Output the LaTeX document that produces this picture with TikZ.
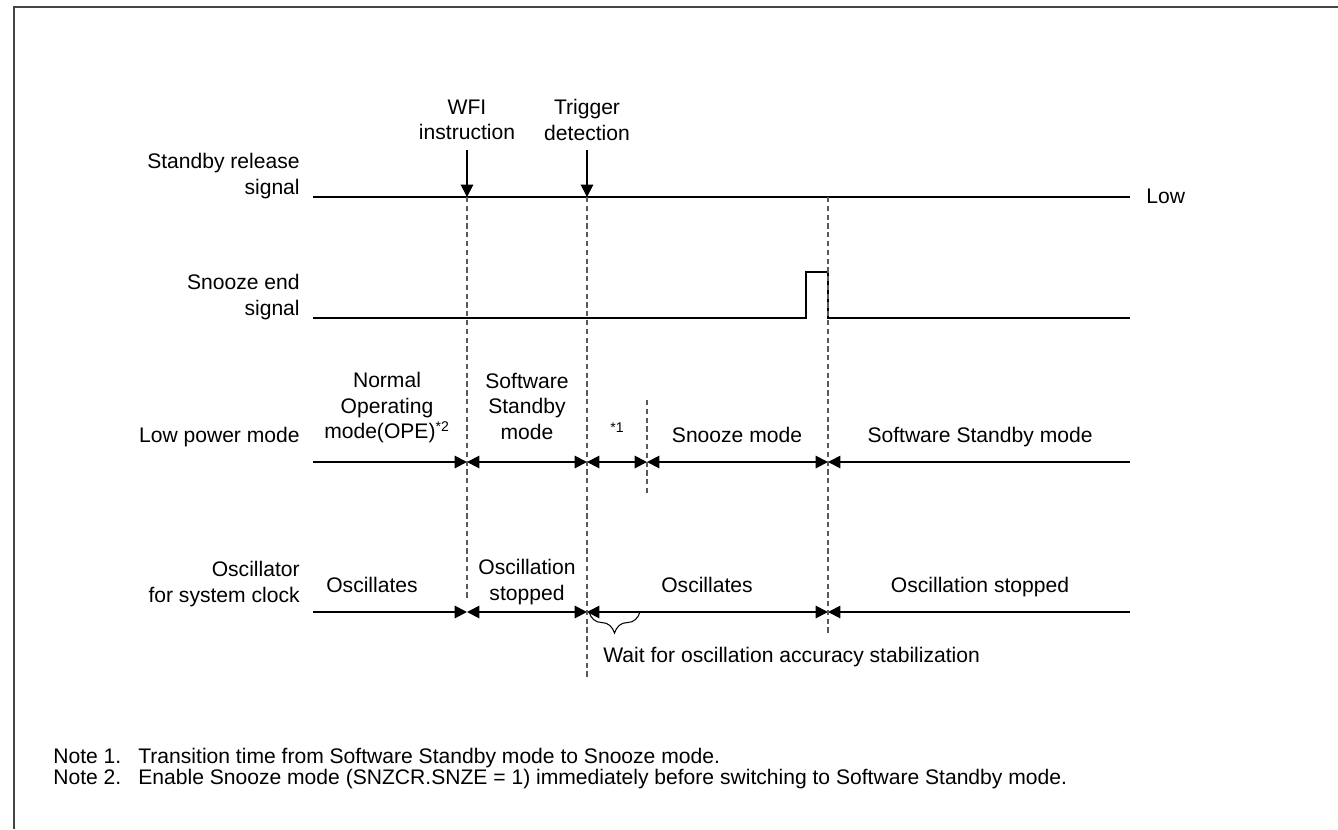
\documentclass[tikz,border=0pt]{standalone}
\usepackage{fontspec}
\setmainfont{Liberation Sans}
\usetikzlibrary{arrows.meta,positioning,decorations.pathreplacing}
\definecolor{frame}{HTML}{454545}
\definecolor{guide}{HTML}{5A5A5A}

\begin{document}
\begin{tikzpicture}[x=0.02cm,y=-0.02cm,
  lbl/.style={font=\fontsize{12}{14.5}\selectfont,align=center,inner sep=0pt},
  side/.style={lbl,align=right,anchor=east},
  note/.style={font=\fontsize{12}{14}\selectfont,inner sep=0pt,anchor=base west},
  sig/.style={line width=1.1pt},
  tip/.style={line width=1.1pt,-{Triangle[length=7pt,width=7pt]}},
  span/.style={line width=1.1pt,{Triangle[length=7pt,width=7pt]}-{Triangle[length=7pt,width=7pt]}},
  spanr/.style={line width=1.1pt,-{Triangle[length=7pt,width=7pt]}},
  spanl/.style={line width=1.1pt,{Triangle[length=7pt,width=7pt]}-},
  guideline/.style={guide,line width=0.6pt,dash pattern=on 3pt off 2pt}]
\useasboundingbox (0,0) rectangle (1338,829);
\draw[frame,line width=1.2pt] (1338,7) -- (14,7) -- (14,829);

\node[side] (relL) at (300,176) {Standby release\\signal};
\node[side] (snzL) at (300,297) {Snooze end\\signal};
\node[lbl,anchor=base east] (lpmL) at (300,442) {Low power mode};
\node[side] (oscL) at (300,584) {Oscillator\\for system clock};

\node[lbl] (wfiL) at (467,120) {WFI\\instruction};
\node[lbl] (trgL) at (587,120) {Trigger\\detection};
\coordinate (wfiT) at (467,150);
\coordinate (trgT) at (587,150);

\coordinate (rel0) at (313,197);
\coordinate (wfi) at (467,197);
\coordinate (trg) at (587,197);
\coordinate (end) at (828,197);
\coordinate (rel1) at (1130,197);
\node[lbl,anchor=base west] (lowL) at (1146,203) {Low};
\draw[sig] (rel0) -- (rel1);
\draw[tip] (wfiT) -- (wfi);
\draw[tip] (trgT) -- (trg);

\coordinate (snz0) at (313,318);
\coordinate (snz1) at (1130,318);
\draw[sig] (snz0) -- (806,318) -- (806,272) -- (828,272) -- (828,318) -- (snz1);

\coordinate (lpm0) at (313,462);
\coordinate (lpmA) at (467,462);
\coordinate (lpmB) at (587,462);
\coordinate (lpmC) at (647,462);
\coordinate (lpmD) at (828,462);
\coordinate (lpm1) at (1130,462);
\draw[spanr] (lpm0) -- (lpmA);
\draw[span] (lpmA) -- (lpmB);
\draw[span] (lpmB) -- (lpmC);
\draw[span] (lpmC) -- (lpmD);
\draw[spanl] (lpmD) -- (lpm1);
\node[lbl] (opeL) at (387,408) {Normal\\Operating\\mode(OPE)\textsuperscript{*2}};
\node[lbl] (sstL) at (527,406) {Software\\Standby\\mode};
\node[lbl,font=\fontsize{8}{9}\selectfont] (n1L) at (617,428) {*1};
\node[lbl,anchor=base] (szmL) at (737,442) {Snooze mode};
\node[lbl,anchor=base] (ssmL) at (980,442) {Software Standby mode};

\coordinate (osc0) at (313,612);
\coordinate (oscA) at (467,612);
\coordinate (oscB) at (587,612);
\coordinate (oscC) at (828,612);
\coordinate (osc1) at (1130,612);
\draw[spanr] (osc0) -- (oscA);
\draw[span] (oscA) -- (oscB);
\draw[span] (oscB) -- (oscC);
\draw[spanl] (oscC) -- (osc1);
\node[lbl,anchor=base] (os1L) at (372,592) {Oscillates};
\node[lbl] (stpL) at (527,582) {Oscillation\\stopped};
\node[lbl,anchor=base] (os2L) at (707,592) {Oscillates};
\node[lbl,anchor=base] (stp2L) at (980,592) {Oscillation stopped};

\coordinate (brA) at (589,612);
\coordinate (brB) at (640,612);
\draw[line width=0.6pt,decorate,decoration={brace,mirror,amplitude=12pt,aspect=0.5}] (brA) -- (brB);
\node[lbl,anchor=base west] (waitL) at (603,662) {Wait for oscillation accuracy stabilization};

\draw[guideline] (wfi) -- (467,598);
\draw[guideline] (trg) -- (587,680);
\draw[guideline] (647,400) -- (647,493);
\draw[guideline] (end) -- (828,636);

\node[note] (n1) at (53,763) {Note 1.};
\node[note] (n1t) at (138,763) {Transition time from Software Standby mode to Snooze mode.};
\node[note] (n2) at (53,784) {Note 2.};
\node[note] (n2t) at (138,784) {Enable Snooze mode (SNZCR.SNZE = 1) immediately before switching to Software Standby mode.};
\end{tikzpicture}
\end{document}
